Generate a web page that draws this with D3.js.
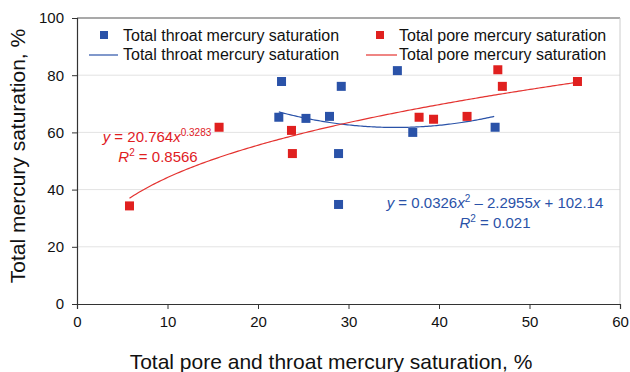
<!DOCTYPE html>
<html>
<head>
<meta charset="utf-8">
<script src="https://cdn.jsdelivr.net/npm/d3@7"></script>
<style>
  body { margin: 0; background: #fff; }
  text { font-family: "Liberation Sans", Arial, sans-serif; }
</style>
</head>
<body>
<div id="chart"></div>
<script>
// throat points (blue)
const throatX = [22.6, 22.3, 25.3, 27.9, 29.2, 28.9, 28.9, 35.4, 37.1, 46.2]
const throatY = [77.8, 65.3, 64.9, 65.6, 76.1, 52.6, 34.8, 81.6, 60.0, 61.8]
// pore points (red)
const poreX = [5.8, 15.7, 23.7, 23.8, 37.8, 39.4, 43.1, 46.5, 47.0, 55.3]
const poreY = [34.3, 61.8, 60.7, 52.6, 65.3, 64.6, 65.6, 81.9, 76.1, 77.8]
// trendline coefficients as printed on the chart
const polyCoef = [0.0326, -2.2955, 102.14]
const polyRange = [22.3, 46.2]
const powCoef = [20.764, 0.3283]
const powRange = [5.8, 55.3]

const xTicks = [0, 10, 20, 30, 40, 50, 60]
const yTicks = [0, 20, 40, 60, 80, 100]

const W = 630, H = 372
const m = {l: 77, r: 10, t: 18, b: 68}

const blue = '#2a52a8', red = '#e0201f'

const svg = d3.select('#chart').append('svg')
    .attr('width', W).attr('height', H)

const x = d3.scaleLinear().domain([0, 60]).range([m.l, W - m.r])
const y = d3.scaleLinear().domain([0, 100]).range([H - m.b, m.t])

// gridlines
svg.append('g').selectAll('line')
    .data(yTicks.filter(d => d > 0 && d < 100))
    .join('line')
    .attr('x1', x(0)).attr('x2', x(60))
    .attr('y1', d => y(d)).attr('y2', d => y(d))
    .attr('stroke', '#e3e3e3').attr('stroke-width', 1)

// frame: top and right
svg.append('line').attr('x1', x(0)).attr('x2', x(60)).attr('y1', y(100)).attr('y2', y(100))
    .attr('stroke', '#555').attr('stroke-width', 1.2)
svg.append('line').attr('x1', x(60)).attr('x2', x(60)).attr('y1', y(100)).attr('y2', y(0))
    .attr('stroke', '#ccc').attr('stroke-width', 1)

const xAxis = svg.append('g')
    .attr('transform', `translate(0,${y(0)})`)
    .call(d3.axisBottom(x).tickValues(xTicks).tickSize(5).tickPadding(7))
const yAxis = svg.append('g')
    .attr('transform', `translate(${x(0)},0)`)
    .call(d3.axisLeft(y).tickValues(yTicks).tickSize(5).tickPadding(8))

for (const ax of [xAxis, yAxis]) {
    ax.select('.domain').attr('stroke', '#333').attr('stroke-width', 1.2)
    ax.selectAll('.tick line').attr('stroke', '#333')
    ax.selectAll('.tick text').attr('font-size', 15).attr('fill', '#111')
        .style('font-family', '"Liberation Sans", Arial, sans-serif')
}

// trendlines
const line = d3.line().x(d => x(d[0])).y(d => y(d[1])).curve(d3.curveLinear)
const polyPts = d3.range(polyRange[0], polyRange[1] + 0.01, 0.2)
    .map(v => [v, polyCoef[0] * v * v + polyCoef[1] * v + polyCoef[2]])
const powPts = d3.range(powRange[0], powRange[1] + 0.01, 0.25)
    .map(v => [v, powCoef[0] * Math.pow(v, powCoef[1])])

svg.append('path').attr('d', line(polyPts)).attr('fill', 'none')
    .attr('stroke', blue).attr('stroke-width', 1.2)
svg.append('path').attr('d', line(powPts)).attr('fill', 'none')
    .attr('stroke', '#e43330').attr('stroke-width', 1.2)

// markers
const s = 9
svg.append('g').selectAll('rect')
    .data(throatX.map((v, i) => [v, throatY[i]]))
    .join('rect')
    .attr('x', d => x(d[0]) - s / 2).attr('y', d => y(d[1]) - s / 2)
    .attr('width', s).attr('height', s).attr('fill', blue)
svg.append('g').selectAll('rect')
    .data(poreX.map((v, i) => [v, poreY[i]]))
    .join('rect')
    .attr('x', d => x(d[0]) - s / 2).attr('y', d => y(d[1]) - s / 2)
    .attr('width', s).attr('height', s).attr('fill', red)

// legend
const leg = svg.append('g').attr('font-size', 16).attr('fill', '#111')
leg.append('rect').attr('x', 100).attr('y', 31).attr('width', 8).attr('height', 8).attr('fill', blue)
leg.append('text').attr('x', 123).attr('y', 41).text('Total throat mercury saturation')
leg.append('line').attr('x1', 89).attr('x2', 118).attr('y1', 55).attr('y2', 55).attr('stroke', blue).attr('stroke-width', 1.2)
leg.append('text').attr('x', 123).attr('y', 60).text('Total throat mercury saturation')
leg.append('rect').attr('x', 376).attr('y', 31).attr('width', 8).attr('height', 8).attr('fill', red)
leg.append('text').attr('x', 399).attr('y', 41).text('Total pore mercury saturation')
leg.append('line').attr('x1', 366).attr('x2', 397).attr('y1', 55).attr('y2', 55).attr('stroke', '#e43330').attr('stroke-width', 1.2)
leg.append('text').attr('x', 399).attr('y', 60).text('Total pore mercury saturation')

// equations
const eqR = svg.append('g').attr('fill', '#e0201f').attr('font-size', 15).attr('text-anchor', 'middle')
const r1 = eqR.append('text').attr('x', 157).attr('y', 142)
r1.append('tspan').attr('font-style', 'italic').text('y')
r1.append('tspan').text(' = 20.764')
r1.append('tspan').attr('font-style', 'italic').text('x')
r1.append('tspan').attr('font-size', 10).attr('dy', -6).text('0.3283')
const r2 = eqR.append('text').attr('x', 158).attr('y', 162)
r2.append('tspan').attr('font-style', 'italic').text('R')
r2.append('tspan').attr('font-size', 10).attr('dy', -6).text('2')
r2.append('tspan').attr('dy', 6).text(' = 0.8566')

const eqB = svg.append('g').attr('fill', '#2a52a8').attr('font-size', 15).attr('text-anchor', 'middle')
const b1 = eqB.append('text').attr('x', 495).attr('y', 208)
b1.append('tspan').attr('font-style', 'italic').text('y')
b1.append('tspan').text(' = 0.0326')
b1.append('tspan').attr('font-style', 'italic').text('x')
b1.append('tspan').attr('font-size', 10).attr('dy', -6).text('2')
b1.append('tspan').attr('dy', 6).text(' \u2013 2.2955')
b1.append('tspan').attr('font-style', 'italic').text('x')
b1.append('tspan').text(' + 102.14')
const b2 = eqB.append('text').attr('x', 495).attr('y', 228)
b2.append('tspan').attr('font-style', 'italic').text('R')
b2.append('tspan').attr('font-size', 10).attr('dy', -6).text('2')
b2.append('tspan').attr('dy', 6).text(' = 0.021')

// axis titles
svg.append('text').attr('x', 331).attr('y', 369).attr('text-anchor', 'middle')
    .attr('font-size', 21).attr('fill', '#111')
    .text('Total pore and throat mercury saturation, %')
svg.append('text').attr('transform', 'translate(25,156) rotate(-90)').attr('text-anchor', 'middle')
    .attr('font-size', 21).attr('fill', '#111')
    .text('Total mercury saturation, %')
</script>
</body>
</html>
